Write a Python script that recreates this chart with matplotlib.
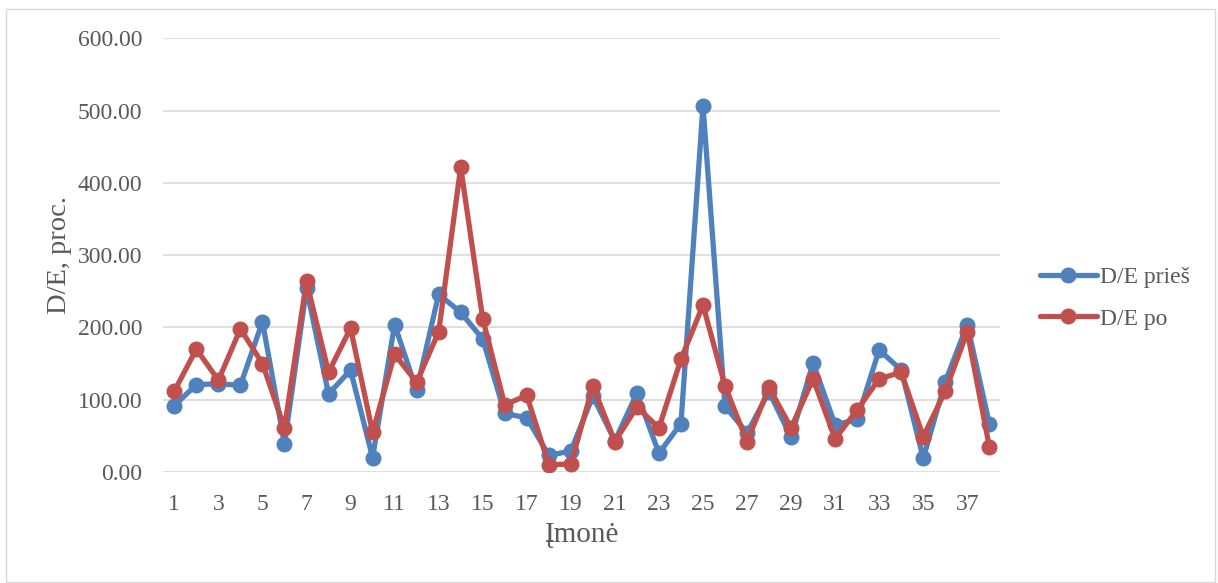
import matplotlib
matplotlib.use("Agg")
import matplotlib.pyplot as plt
from matplotlib.patches import Rectangle

# D/E rodikliai pagal įmones
imones = list(range(1, 39))
de_pries = [92, 121, 122, 120, 208, 39, 254, 108, 141, 20,
            204, 113, 246, 221, 184, 81, 75, 23, 29, 105,
            43, 109, 26, 67, 507, 91, 54, 111, 48, 151,
            65, 73, 169, 141, 19, 125, 204, 67]
de_po = [112, 170, 127, 198, 150, 61, 264, 138, 199, 55,
         163, 124, 194, 422, 212, 93, 106, 10, 11, 119,
         42, 90, 61, 156, 231, 119, 42, 117, 61, 129,
         46, 86, 129, 138, 49, 112, 194, 35]
y_ticks = [0, 100, 200, 300, 400, 500, 600]

plt.rcParams['font.family'] = ['Liberation Serif', 'DejaVu Serif']
txt = '#595959'

fig = plt.figure(figsize=(12.18, 5.83), dpi=100)
fig.patches.append(Rectangle((6 / 1218, 1 / 583), 1209 / 1218, 573 / 583,
                             transform=fig.transFigure, fill=False,
                             edgecolor='#D9D9D9', linewidth=1.0))
ax = fig.add_axes([0.1341, 0.1904, 0.6872, 0.7436])

ax.plot(imones, de_pries, color='#4F81BD', lw=3.8, marker='o', ms=10.5,
        label='D/E prieš', solid_capstyle='round', zorder=3)
ax.plot(imones, de_po, color='#C0504D', lw=3.8, marker='o', ms=10.5,
        label='D/E po', solid_capstyle='round', zorder=4)

ax.set_xlim(0.5, 38.5)
ax.set_ylim(0, 600)
ax.set_yticks(y_ticks)
ax.set_yticklabels([f'{v:.2f}' for v in y_ticks])
ax.set_xticks(imones[::2])
ax.grid(axis='y', color='#D9D9D9', lw=1.2, zorder=0)
ax.set_axisbelow(True)
for s in ax.spines.values():
    s.set_visible(False)
ax.tick_params(axis='both', length=0, labelsize=17, colors=txt)
ax.tick_params(axis='y', pad=15)
ax.tick_params(axis='x', pad=16)

ax.set_xlabel('Įmonė', fontsize=21, color=txt, labelpad=5)
ax.set_ylabel('D/E, proc.', fontsize=20.5, color=txt, labelpad=4)

fig.legend(loc='center left', bbox_to_anchor=(1040 / 1218, 285 / 583),
           frameon=False, fontsize=17, handlelength=2.4, handletextpad=0.15,
           borderpad=0, borderaxespad=0, labelspacing=0.85, labelcolor=txt)

fig.savefig('out.png', dpi=100)
